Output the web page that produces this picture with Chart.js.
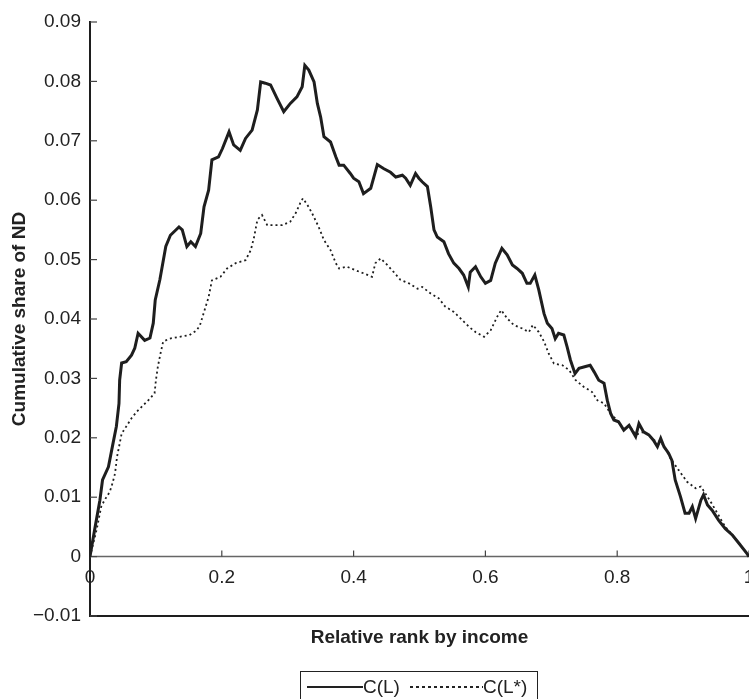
<!DOCTYPE html>
<html>
<head>
<meta charset="utf-8">
<script src="https://cdn.jsdelivr.net/npm/chart.js@4/dist/chart.umd.min.js"></script>
<style>
  html, body { margin: 0; padding: 0; background: #fff; overflow: hidden; }
  #wrap { position: relative; width: 749px; height: 699px; }
  #legend {
    position: absolute; left: 300px; top: 671px; width: 238px; height: 40px;
    border: 1.5px solid #222; box-sizing: border-box;
    font-family: "Liberation Sans", Arial, sans-serif; font-size: 19px; color: #222;
  }
  #legend .item { position: absolute; top: 4px; white-space: nowrap; }
  #legend .ln { position: absolute; top: 14px; height: 1.5px; }
</style>
</head>
<body>
<div id="wrap">
  <canvas id="c" width="749" height="699"></canvas>
  <div id="legend">
    <div class="ln" style="left:6px;width:56px;background:#222;"></div>
    <div class="item" style="left:62px;">C(L)</div>
    <div class="ln" style="left:109px;width:73px;background:repeating-linear-gradient(to right,#222 0 3px,transparent 3px 6px);"></div>
    <div class="item" style="left:182px;">C(L*)</div>
  </div>
</div>
<script>
// ---- data ----
const xL = [0,0.007,0.015,0.019,0.028,0.035,0.040,0.044,0.045,0.048,0.055,0.063,0.068,0.073,0.083,0.091,0.096,0.099,0.106,0.115,0.122,0.135,0.140,0.147,0.153,0.160,0.168,0.173,0.180,0.185,0.195,0.201,0.211,0.218,0.228,0.236,0.246,0.254,0.259,0.266,0.274,0.284,0.294,0.304,0.314,0.322,0.326,0.332,0.340,0.345,0.350,0.355,0.365,0.373,0.378,0.385,0.395,0.400,0.408,0.415,0.426,0.436,0.446,0.456,0.464,0.474,0.479,0.486,0.494,0.499,0.504,0.512,0.517,0.522,0.527,0.537,0.544,0.552,0.560,0.567,0.574,0.577,0.585,0.593,0.600,0.608,0.615,0.625,0.633,0.641,0.648,0.656,0.663,0.668,0.675,0.681,0.689,0.694,0.701,0.706,0.711,0.719,0.724,0.729,0.736,0.742,0.752,0.759,0.765,0.772,0.780,0.785,0.790,0.795,0.802,0.810,0.818,0.828,0.833,0.840,0.848,0.855,0.861,0.866,0.871,0.878,0.883,0.888,0.896,0.903,0.909,0.914,0.919,0.927,0.931,0.937,0.944,0.954,0.964,0.975,0.985,0.997,1];
const yL = [0,0.0045,0.0095,0.0129,0.0151,0.0191,0.0219,0.0258,0.0297,0.0326,0.0328,0.0339,0.0351,0.0376,0.0364,0.0368,0.0393,0.0432,0.0466,0.0522,0.0541,0.0555,0.0550,0.0522,0.0530,0.0522,0.0544,0.0589,0.0617,0.0668,0.0673,0.0687,0.0715,0.0693,0.0684,0.0704,0.0718,0.0752,0.0799,0.0797,0.0794,0.0771,0.0749,0.0763,0.0774,0.0791,0.0827,0.0819,0.0799,0.0763,0.0740,0.0707,0.0698,0.0673,0.0659,0.0659,0.0645,0.0637,0.0631,0.0611,0.0620,0.0660,0.0653,0.0647,0.0639,0.0642,0.0637,0.0625,0.0645,0.0637,0.0631,0.0623,0.0589,0.0550,0.0538,0.0530,0.0510,0.0494,0.0485,0.0474,0.0454,0.0479,0.0488,0.0471,0.0460,0.0465,0.0494,0.0519,0.0508,0.0491,0.0485,0.0477,0.0460,0.0460,0.0474,0.0449,0.0409,0.0393,0.0384,0.0367,0.0376,0.0373,0.0353,0.0331,0.0308,0.0317,0.0320,0.0322,0.0311,0.0297,0.0292,0.0263,0.0241,0.0230,0.0227,0.0213,0.0221,0.0202,0.0224,0.0210,0.0205,0.0196,0.0185,0.0199,0.0185,0.0174,0.0162,0.0129,0.0101,0.0073,0.0073,0.0084,0.0064,0.0095,0.0104,0.0087,0.0078,0.0061,0.0047,0.0036,0.0022,0.0005,0];
const xLs = [0,0.010,0.017,0.022,0.030,0.034,0.038,0.041,0.045,0.048,0.055,0.063,0.071,0.081,0.091,0.098,0.100,0.103,0.107,0.111,0.121,0.136,0.151,0.162,0.167,0.180,0.185,0.198,0.208,0.221,0.236,0.244,0.249,0.254,0.261,0.269,0.281,0.292,0.304,0.312,0.319,0.323,0.330,0.337,0.347,0.355,0.365,0.373,0.378,0.390,0.403,0.415,0.428,0.433,0.441,0.451,0.461,0.471,0.484,0.497,0.504,0.517,0.529,0.539,0.552,0.565,0.575,0.585,0.598,0.608,0.618,0.624,0.633,0.643,0.656,0.666,0.672,0.681,0.689,0.696,0.704,0.717,0.727,0.737,0.749,0.762,0.770,0.780,0.790,0.802,0.810,0.818,0.828,0.840,0.848,0.855,0.866,0.873,0.881,0.893,0.906,0.919,0.927,0.934,0.942,0.952,0.964,0.975,0.985,0.997,1];
const yLs = [0,0.0045,0.0084,0.0095,0.0109,0.0123,0.0140,0.0168,0.0190,0.0207,0.0219,0.0233,0.0244,0.0255,0.0266,0.0275,0.0297,0.0320,0.0342,0.0362,0.0367,0.0370,0.0373,0.0381,0.0390,0.0437,0.0465,0.0471,0.0485,0.0494,0.0499,0.0516,0.0538,0.0567,0.0575,0.0558,0.0558,0.0558,0.0564,0.0578,0.0595,0.0603,0.0592,0.0578,0.0555,0.0533,0.0516,0.0494,0.0485,0.0488,0.0482,0.0477,0.0471,0.0494,0.0502,0.0491,0.0479,0.0466,0.0460,0.0451,0.0454,0.0443,0.0435,0.0421,0.0412,0.0398,0.0387,0.0378,0.0370,0.0381,0.0404,0.0415,0.0401,0.0390,0.0384,0.0378,0.0390,0.0378,0.0362,0.0342,0.0325,0.0322,0.0314,0.0297,0.0286,0.0277,0.0263,0.0258,0.0241,0.0227,0.0215,0.0221,0.0205,0.0210,0.0205,0.0196,0.0193,0.0182,0.0165,0.0146,0.0126,0.0115,0.0118,0.0106,0.0092,0.0073,0.0050,0.0036,0.0022,0.0005,0];
const xTickValues = [0, 0.2, 0.4, 0.6, 0.8, 1];
const xTickLabels = ['0', '0.2', '0.4', '0.6', '0.8', '1'];
const yTickValues = [-0.01, 0, 0.01, 0.02, 0.03, 0.04, 0.05, 0.06, 0.07, 0.08, 0.09];
const yTickLabels = ['\u22120.01', '0', '0.01', '0.02', '0.03', '0.04', '0.05', '0.06', '0.07', '0.08', '0.09'];
const seriesNames = ['C(L)', 'C(L*)'];

const FONT = '"Liberation Sans", Arial, Helvetica, sans-serif';
const ink = '#1e1e1e';

const axisDeco = {
  id: 'axisDeco',
  beforeDatasetsDraw(chart) {
    const {ctx, chartArea, scales: {x, y}} = chart;
    const y0 = y.getPixelForValue(0);
    ctx.save();
    ctx.strokeStyle = '#666';
    ctx.lineWidth = 1.5;
    ctx.beginPath();
    ctx.moveTo(chartArea.left, y0);
    ctx.lineTo(chartArea.right, y0);
    ctx.stroke();
    ctx.strokeStyle = '#444';
    ctx.lineWidth = 1.2;
    xTickValues.forEach(v => {
      if (v === 0) return;
      const px = x.getPixelForValue(v);
      ctx.beginPath();
      ctx.moveTo(px, y0);
      ctx.lineTo(px, y0 - 6);
      ctx.stroke();
    });
    yTickValues.forEach(v => {
      const py = y.getPixelForValue(v);
      ctx.beginPath();
      ctx.moveTo(chartArea.left, py);
      ctx.lineTo(chartArea.left + 7, py);
      ctx.stroke();
    });
    ctx.restore();
  },
  afterDraw(chart) {
    const {ctx, scales: {x, y}} = chart;
    const y0 = y.getPixelForValue(0);
    ctx.save();
    ctx.fillStyle = '#222';
    ctx.font = '19px ' + FONT;
    ctx.textAlign = 'center';
    ctx.textBaseline = 'middle';
    xTickValues.forEach((v, i) => {
      ctx.fillText(xTickLabels[i], x.getPixelForValue(v), y0 + 21);
    });
    ctx.restore();
  }
};

new Chart(document.getElementById('c'), {
  type: 'scatter',
  data: {
    datasets: [
      {
        label: seriesNames[0],
        data: xL.map((v, i) => ({x: v, y: yL[i]})),
        showLine: true, borderColor: ink, borderWidth: 3, pointRadius: 0,
        tension: 0, fill: false
      },
      {
        label: seriesNames[1],
        data: xLs.map((v, i) => ({x: v, y: yLs[i]})),
        showLine: true, borderColor: ink, borderWidth: 1.8, borderDash: [2, 3],
        pointRadius: 0, tension: 0, fill: false
      }
    ]
  },
  options: {
    responsive: false,
    animation: false,
    devicePixelRatio: 1,
    layout: { padding: { left: 0, top: 22, right: 0, bottom: 46 } },
    plugins: { legend: { display: false }, tooltip: { enabled: false } },
    scales: {
      x: {
        type: 'linear', min: 0, max: 1,
        grid: { display: false, drawTicks: false },
        border: { display: true, color: ink, width: 2 },
        ticks: { display: false },
        title: {
          display: true, text: 'Relative rank by income', color: '#222',
          font: { family: FONT, size: 19, weight: 'bold' },
          padding: { top: 15, bottom: 4 }
        },
        afterFit(s) { s.height = 37; }
      },
      y: {
        type: 'linear', min: -0.01, max: 0.09,
        grid: { display: false, drawTicks: false },
        border: { display: true, color: ink, width: 2 },
        afterBuildTicks(s) { s.ticks = yTickValues.map(v => ({value: v})); },
        ticks: {
          padding: 9, color: '#222',
          font: { family: FONT, size: 19 },
          callback: (v) => {
            const i = yTickValues.findIndex(t => Math.abs(t - v) < 1e-9);
            return i >= 0 ? yTickLabels[i] : '';
          }
        },
        title: {
          display: true, text: 'Cumulative share of ND', color: '#222',
          font: { family: FONT, size: 19, weight: 'bold' },
          padding: { top: 8, bottom: 0 }
        },
        afterFit(s) { s.width = 90; }
      }
    }
  },
  plugins: [axisDeco]
});
</script>
</body>
</html>
